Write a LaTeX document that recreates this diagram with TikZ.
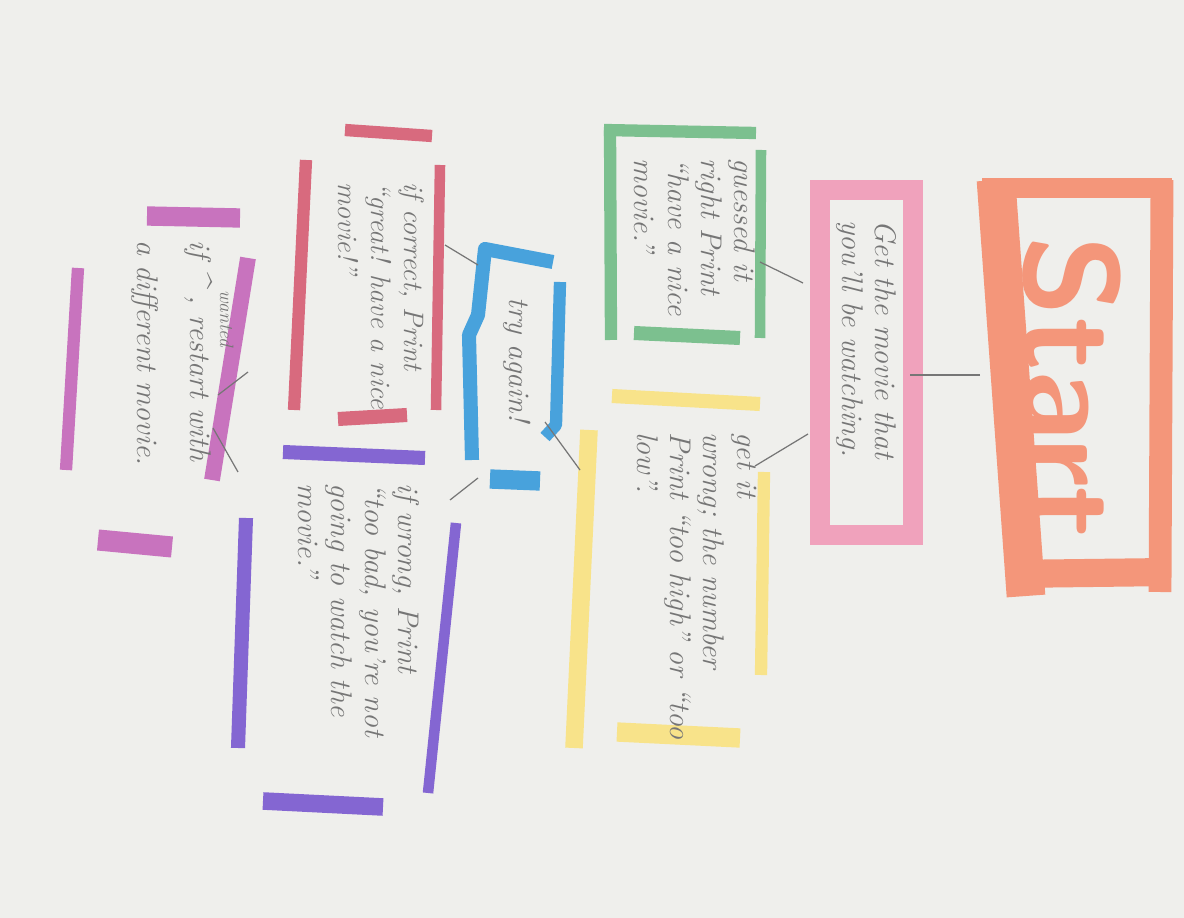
\documentclass[tikz,border=0pt]{standalone}
\usepackage{xcolor}
\usepackage{tikz}

\tikzset{
  marker/.style={line width=#1, line cap=butt, line join=round},
  marker/.default=8pt,
  hand/.style={rotate=-90, inner sep=0pt, align=left, text=lapis, font=\itshape\fontsize{17}{19}\selectfont},
  fio/.style={draw=lapis, line width=0.7pt},
}

\begin{document}
\begin{tikzpicture}[x=0.02cm, y=-0.02cm]
% --- CORES HEX DAS CANETAS ---
\definecolor{papel}{HTML}{EFEFEC}
\definecolor{laranja}{HTML}{F4967A}
\definecolor{rosa}{HTML}{F0A2BC}
\definecolor{verde}{HTML}{7CC08F}
\definecolor{amarelo}{HTML}{F8E38A}
\definecolor{vermelho}{HTML}{D86A7E}
\definecolor{azul}{HTML}{48A2DC}
\definecolor{roxo}{HTML}{8466D2}
\definecolor{lilas}{HTML}{C873BE}
\definecolor{lapis}{HTML}{767676}

% LAYER 1: Papel
\useasboundingbox (0,0) rectangle (1184,918);
\fill[papel] (0,0) rectangle (1184,918);

% LAYER 2: Start
\draw[laranja, marker=11pt] (982,188) -- (1172,188);
\draw[laranja, marker=13pt] (1162,180) -- (1160,592);
\draw[laranja, marker=16pt] (1008,574) -- (1170,572);
\draw[laranja, marker=22pt] (996,180) -- (1026,596);
\node[rotate=-90, text=laranja, font=\sffamily\bfseries\fontsize{76}{76}\selectfont] (start) at (1072,388) {Start};

% LAYER 3: Caixa rosa
\draw[rosa, marker=11pt, line join=miter] (820,190) rectangle (913,535);
\node[hand, anchor=north west] (filme) at (897,220) {Get the movie that\\you'll be watching.};

% LAYER 4: Caixa verde
\draw[verde, marker=7pt] (604,130) -- (756,133);
\draw[verde, marker=7pt] (610,127) -- (611,340);
\draw[verde, marker=6pt] (761,150) -- (760,338);
\draw[verde, marker=8pt] (634,333) -- (740,338);
\node[hand, anchor=north west] (acertou) at (756,158) {guessed it\\right Print\\``have a nice\\movie.''};

% LAYER 5: Caixa amarela
\draw[amarelo, marker=8pt] (612,396) -- (760,404);
\draw[amarelo, marker=7pt] (764,472) -- (761,675);
\draw[amarelo, marker=10pt] (589,430) -- (574,748);
\draw[amarelo, marker=11pt] (617,732) -- (740,738);
\node[hand, anchor=north west] (errou) at (757,432) {get it\\wrong; the number\\Print ``too high'' or ``too\\low''.};

% LAYER 6: Caixa vermelha
\draw[vermelho, marker=7pt] (345,130) -- (432,136);
\draw[vermelho, marker=6pt] (440,165) -- (436,410);
\draw[vermelho, marker=7pt] (306,160) -- (294,410);
\draw[vermelho, marker=8pt] (338,419) -- (407,415);
\node[hand, anchor=north west, font=\itshape\fontsize{16}{19}\selectfont] (certo) at (425,182) {if correct, Print\\``great! have a nice\\movie!''};

% LAYER 7: Caixa azul
\draw[azul, marker=8pt] (553,262) -- (485,249) -- (478,315) -- (469,335) -- (472,460);
\draw[azul, marker=7pt] (560,282) -- (556,425) -- (545,437);
\draw[azul, marker=11pt] (490,479) -- (540,481);
\node[hand] (tente) at (517,360) {try again!};

% LAYER 8: Caixa roxa
\draw[roxo, marker=8pt] (283,452) -- (425,458);
\draw[roxo, marker=6pt] (456,523) -- (428,793);
\draw[roxo, marker=8pt] (246,518) -- (238,748);
\draw[roxo, marker=10pt] (263,801) -- (383,807);
\node[hand, anchor=north west] (errado) at (420,483) {if wrong, Print\\``too bad, you're not\\going to watch the\\movie.''};

% LAYER 9: Caixa lilas
\draw[lilas, marker=11pt] (147,216) -- (240,218);
\draw[lilas, marker=9pt] (248,258) -- (212,480);
\draw[lilas, marker=7pt] (78,268) -- (66,470);
\draw[lilas, marker=12pt] (98,540) -- (172,547);
\node[hand, anchor=north west, font=\itshape\fontsize{17}{30}\selectfont] (recomeca) at (213,240) {if \^{} , restart with\\a different movie.};
\node[hand, anchor=north west, font=\itshape\fontsize{11}{12}\selectfont] (querido) at (234,290) {wanted};

% LAYER 10: Ligacoes a lapis
\coordinate (start-o) at (980,375);   \coordinate (filme-l) at (910,375);
\coordinate (filme-so) at (803,283);  \coordinate (acertou-l) at (760,262);
\coordinate (filme-no) at (808,434);  \coordinate (errou-l) at (755,466);
\coordinate (errou-o) at (580,470);   \coordinate (tente-l) at (545,422);
\coordinate (tente-n) at (478,265);   \coordinate (certo-s) at (445,245);
\coordinate (tente-s) at (478,478);   \coordinate (errado-n) at (450,500);
\coordinate (recomeca-a) at (218,395); \coordinate (certo-x) at (248,372);
\coordinate (recomeca-b) at (213,428); \coordinate (errado-x) at (238,472);
\draw[fio] (start-o) -- (filme-l);
\draw[fio] (filme-so) -- (acertou-l);
\draw[fio] (filme-no) -- (errou-l);
\draw[fio] (tente-l) -- (errou-o);
\draw[fio] (tente-n) -- (certo-s);
\draw[fio] (tente-s) -- (errado-n);
\draw[fio] (recomeca-a) -- (certo-x);
\draw[fio] (recomeca-b) -- (errado-x);
\end{tikzpicture}
\end{document}
